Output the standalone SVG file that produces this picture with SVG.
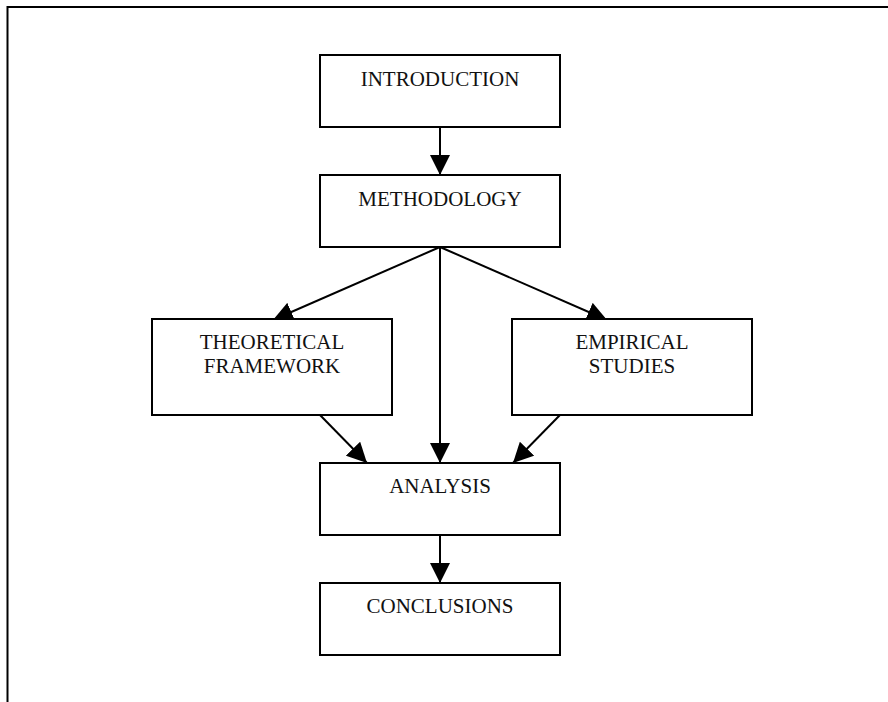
<svg xmlns="http://www.w3.org/2000/svg" width="888" height="702" viewBox="0 0 888 702">
  <style>
    .box { fill: #fff; stroke: #000; stroke-width: 2; }
    .lbl { font-family: "Liberation Serif", "Times New Roman", serif; font-size: 21px; fill: #111; text-anchor: middle; }
    .edge { stroke: #000; stroke-width: 2; fill: none; marker-end: url(#head); }
    .frame { stroke: #000; stroke-width: 2; fill: none; }
  </style>
  <defs>
    <marker id="head" markerUnits="userSpaceOnUse" markerWidth="20" markerHeight="20" refX="20" refY="10" viewBox="0 0 20 20" orient="auto">
      <path d="M0,0 L20,10 L0,20 z" fill="#000"/>
    </marker>
  </defs>

  <rect width="888" height="702" fill="#fff"/>
  <!-- page frame: top and left edges -->
  <path class="frame" d="M7.5,702 V7 H888"/>

  <!-- connectors are drawn first so the boxes cover the arrow tips -->
  <g id="connectors">
    <line class="edge" x1="440" y1="127" x2="440" y2="175"/>
    <line class="edge" x1="440" y1="247" x2="273" y2="320"/>
    <line class="edge" x1="440" y1="247" x2="607" y2="320"/>
    <line class="edge" x1="440" y1="247" x2="440" y2="463"/>
    <line class="edge" x1="320" y1="415" x2="367" y2="463"/>
    <line class="edge" x1="560" y1="415" x2="513" y2="463"/>
    <line class="edge" x1="440" y1="535" x2="440" y2="583"/>
  </g>

  <g id="introduction">
    <rect class="box" x="320" y="55" width="240" height="72"/>
    <text class="lbl" x="440" y="86">INTRODUCTION</text>
  </g>
  <g id="methodology">
    <rect class="box" x="320" y="175" width="240" height="72"/>
    <text class="lbl" x="440" y="206">METHODOLOGY</text>
  </g>
  <g id="theoretical-framework">
    <rect class="box" x="152" y="319" width="240" height="96"/>
    <text class="lbl" x="272" y="349">THEORETICAL</text>
    <text class="lbl" x="272" y="373">FRAMEWORK</text>
  </g>
  <g id="empirical-studies">
    <rect class="box" x="512" y="319" width="240" height="96"/>
    <text class="lbl" x="632" y="349">EMPIRICAL</text>
    <text class="lbl" x="632" y="373">STUDIES</text>
  </g>
  <g id="analysis">
    <rect class="box" x="320" y="463" width="240" height="72"/>
    <text class="lbl" x="440" y="493">ANALYSIS</text>
  </g>
  <g id="conclusions">
    <rect class="box" x="320" y="583" width="240" height="72"/>
    <text class="lbl" x="440" y="613">CONCLUSIONS</text>
  </g>
</svg>
